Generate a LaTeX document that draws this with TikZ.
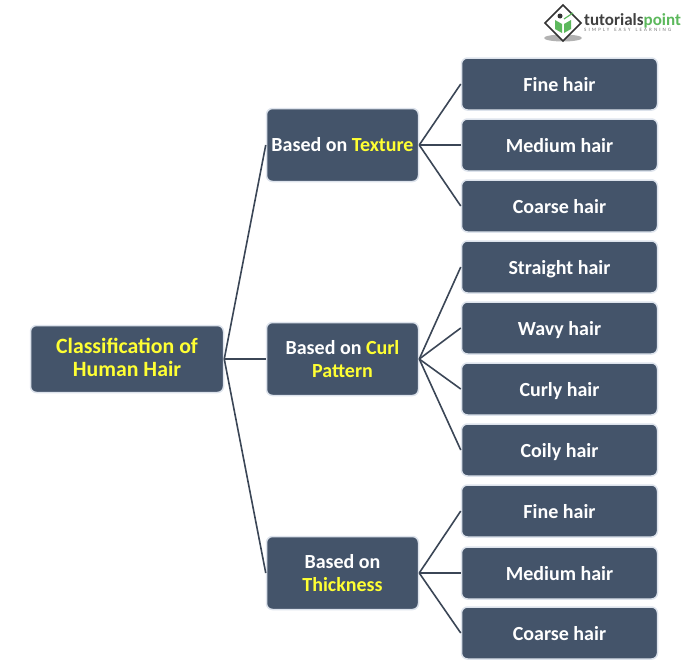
\documentclass[tikz,border=0pt]{standalone}
\usepackage{fontspec}
\usepackage{xcolor}
\setmainfont{Carlito}
\usetikzlibrary{shapes.geometric}
\definecolor{boxfill}{HTML}{44546A}
\definecolor{boxedge}{HTML}{DDE3EC}
\definecolor{linkcol}{HTML}{3B4656}
\definecolor{hilite}{HTML}{FFFF33}
\definecolor{logogreen}{HTML}{5CB85C}
\tikzset{
  basebox/.style={rectangle, rounded corners=6pt, draw=boxedge, line width=1.5pt,
    fill=boxfill, text=white, font=\fontsize{20}{23}\selectfont\bfseries,
    align=center, inner sep=0pt},
  rootbox/.style={basebox, minimum width=193pt, minimum height=67pt,
    font=\fontsize{21.8}{23}\selectfont\bfseries},
  midbox/.style={basebox, minimum width=152pt, minimum height=73pt},
  leafbox/.style={basebox, minimum width=196pt, minimum height=52pt,
    text height=17pt, text depth=2pt},
  link/.style={draw=linkcol, line width=1.6pt}
}
\begin{document}
\begin{tikzpicture}[x=1pt, y=-1pt]
  \useasboundingbox (0, 0) rectangle (700, 667);

  % Root
  \node[rootbox] (root) at (127, 359) {\textcolor{hilite}{Classification of}\\\textcolor{hilite}{Human Hair}\rule[-3pt]{0pt}{3pt}};

  % Middle level
  \node[midbox] (texture) at (342.5, 145) {Based on \textcolor{hilite}{Texture}};
  \node[midbox] (curl) at (342.5, 359) {Based on \textcolor{hilite}{Curl}\\\textcolor{hilite}{Pattern}};
  \node[midbox] (thick) at (342.5, 573) {Based on\\\textcolor{hilite}{Thickness}};

  % Leaves
  \node[leafbox] (fine1) at (559.5, 84) {Fine hair};
  \node[leafbox] (medium1) at (559.5, 145) {Medium hair};
  \node[leafbox] (coarse1) at (559.5, 206) {Coarse hair};
  \node[leafbox] (straight) at (559.5, 267) {Straight hair};
  \node[leafbox] (wavy) at (559.5, 328) {Wavy hair};
  \node[leafbox] (curly) at (559.5, 389) {Curly hair};
  \node[leafbox] (coily) at (559.5, 450) {Coily hair};
  \node[leafbox] (fine2) at (559.5, 511) {Fine hair};
  \node[leafbox] (medium2) at (559.5, 573) {Medium hair};
  \node[leafbox] (coarse2) at (559.5, 633) {Coarse hair};

  % Links
  \draw[link] (root.east) -- (texture.west);
  \draw[link] (root.east) -- (curl.west);
  \draw[link] (root.east) -- (thick.west);
  \draw[link] (texture.east) -- (fine1.west);
  \draw[link] (texture.east) -- (medium1.west);
  \draw[link] (texture.east) -- (coarse1.west);
  \draw[link] (curl.east) -- (straight.west);
  \draw[link] (curl.east) -- (wavy.west);
  \draw[link] (curl.east) -- (curly.west);
  \draw[link] (curl.east) -- (coily.west);
  \draw[link] (thick.east) -- (fine2.west);
  \draw[link] (thick.east) -- (medium2.west);
  \draw[link] (thick.east) -- (coarse2.west);

  % Logo
  \fill[black!30] (563, 38) ellipse (19 and 3.5);
  \draw[line width=1.6pt, draw=black!80, fill=white]
     (563, 5) -- (581, 23) -- (563, 41) -- (545, 23) -- cycle;
  \fill[logogreen] (555, 20) -- (562, 24) -- (562, 33) -- (555, 29) -- cycle;
  \fill[logogreen] (571, 20) -- (564, 24) -- (564, 33) -- (571, 29) -- cycle;
  \fill[black!80] (560, 16) circle (2.5);
  \draw[logogreen, line width=1.2pt] (564, 19) -- (573, 13);
  \node[anchor=west, inner sep=0pt, font=\fontsize{17}{18}\selectfont\bfseries] (logoname) at (584, 20.5)
     {\textcolor{black!75}{tutorials}\textcolor{logogreen}{point}};
  \node[anchor=west, inner sep=0pt, text=black!55, font=\fontsize{5}{5}\selectfont\addfontfeatures{LetterSpace=42}] (logotag) at (584, 30)
     {SIMPLY\hspace{5pt}EASY\hspace{5pt}LEARNING};
\end{tikzpicture}
\end{document}
